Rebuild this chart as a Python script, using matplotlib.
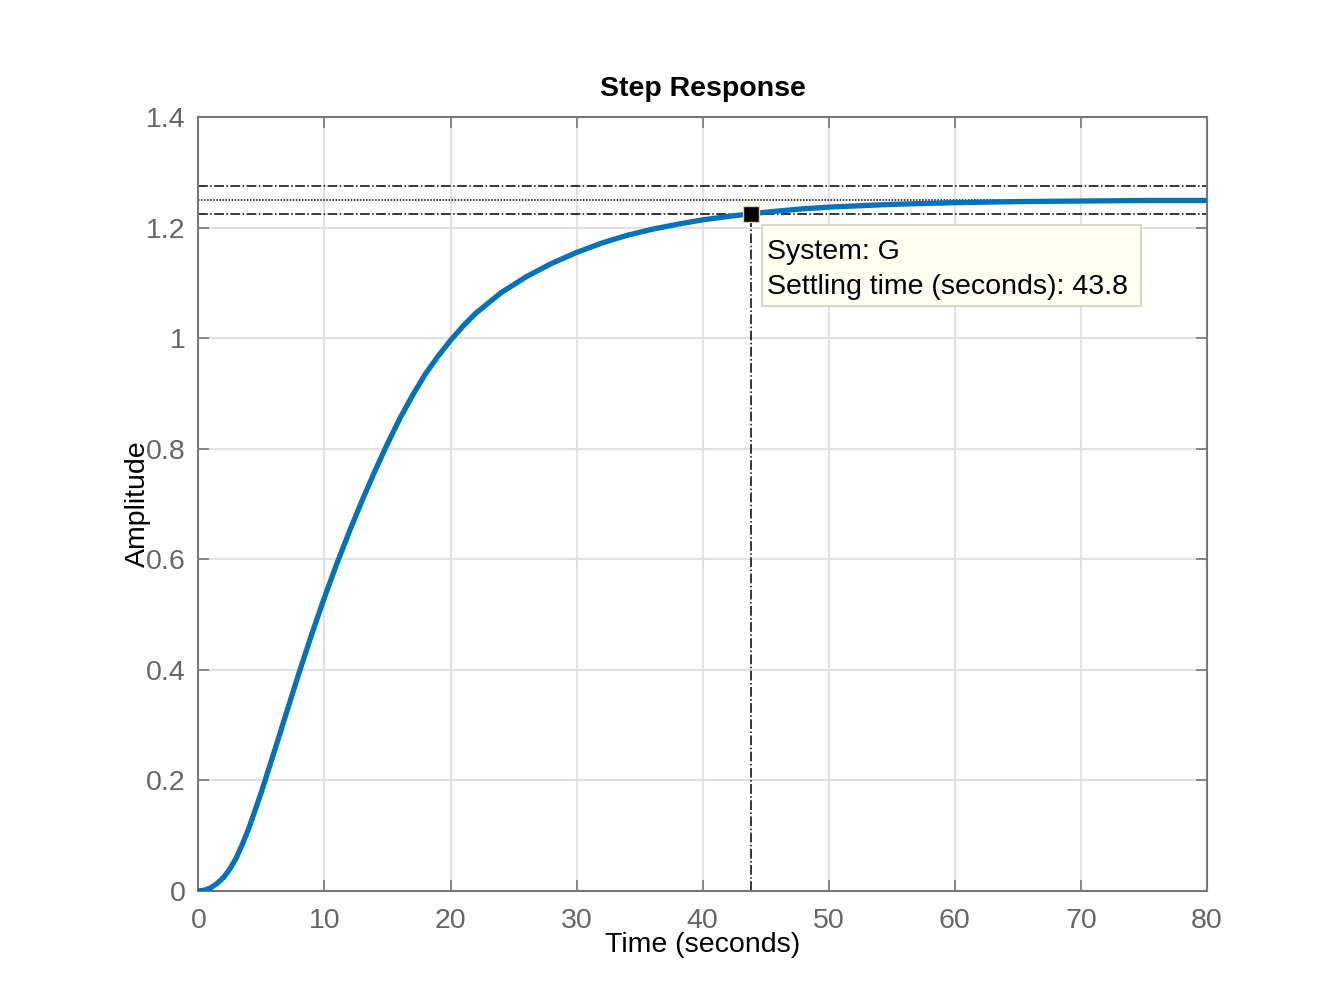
import numpy as np
import matplotlib
matplotlib.use("Agg")
from matplotlib import pyplot as plt
from matplotlib.patches import Rectangle

# step response
t = [0, 0.5, 1.0, 1.5, 2.0, 2.5, 3.0, 3.5, 4.0, 4.5, 5.0, 5.5, 6.0, 7.0, 8.0,
     9.0, 10.0, 11.0, 12.0, 13.0, 14.0, 15.0, 16.0, 17.0, 18.0, 19.0, 20.0,
     21.0, 22.0, 24.0, 26.0, 28.0, 30.0, 32.0, 34.0, 36.0, 38.0, 40.0, 42.0,
     43.8, 46.0, 48.0, 50.0, 55.0, 60.0, 65.0, 70.0, 75.0, 80.0]
y = [0, 0.0015, 0.006, 0.014, 0.0245, 0.040, 0.0595, 0.085, 0.113, 0.146,
     0.179, 0.215, 0.2505, 0.3235, 0.3955, 0.465, 0.531, 0.593, 0.6515, 0.707,
     0.7595, 0.809, 0.8555, 0.897, 0.935, 0.967, 0.996, 1.022, 1.045, 1.082,
     1.111, 1.135, 1.155, 1.172, 1.186, 1.197, 1.206, 1.214, 1.220, 1.225,
     1.230, 1.234, 1.237, 1.242, 1.245, 1.247, 1.248, 1.249, 1.249]

final_value = 1.25
band = 0.02
settle_t = 43.8
settle_y = 1.225
system_name = "G"

xticks = [0, 10, 20, 30, 40, 50, 60, 70, 80]
yticks = [0, 0.2, 0.4, 0.6, 0.8, 1.0, 1.2, 1.4]
yticklabels = ["0", "0.2", "0.4", "0.6", "0.8", "1", "1.2", "1.4"]

plt.rcParams['font.family'] = ['Liberation Sans', 'DejaVu Sans']
fs = 20.5

fig = plt.figure(figsize=(13.33, 10), dpi=100)
ax = fig.add_axes([0.1488, 0.109, 0.7567, 0.774])

grey = '#666666'
ax.set_xlim(0, 80)
ax.set_ylim(0, 1.4)
ax.set_xticks(xticks)
ax.set_yticks(yticks)
ax.set_yticklabels(yticklabels)
ax.grid(True, color='#e2e2e2', linewidth=1.5)
ax.set_axisbelow(True)
for s in ax.spines.values():
    s.set_color('#777777')
    s.set_linewidth(1.5)
ax.tick_params(direction='in', length=8, width=1.2, color='#777777',
               labelcolor=grey, labelsize=fs, top=True, right=True)
ax.tick_params(axis='x', pad=12.5)
ax.tick_params(axis='y', pad=9)

# settling bands
ax.axhline(final_value * (1 + band), color='black', lw=1.1, ls='-.', zorder=2)
ax.axhline(final_value, color='black', lw=1.1, ls=(0, (1, 1)), zorder=2)
ax.axhline(final_value * (1 - band), color='black', lw=1.1, ls='-.', zorder=2)
ax.plot([settle_t, settle_t], [0, settle_y], color='black', lw=1.1, ls='-.', zorder=2)

ax.plot(t, y, color='#0072BD', lw=3.8, zorder=3, solid_joinstyle='round')
ax.plot([settle_t], [settle_y], marker='s', ms=11, mfc='black', mec='#d8d8a0',
        mew=1, zorder=5, clip_on=False)

# data tip
bx0, bx1 = settle_t + 0.9, settle_t + 31.0
by0, by1 = settle_y - 0.167, settle_y - 0.0205
ax.add_patch(Rectangle((bx0, by0), bx1 - bx0, by1 - by0, facecolor='#fefff0',
                       edgecolor='#d0d0c0', lw=1.2, zorder=4))
ax.text(bx0 + 0.4, settle_y - 0.070, "System: " + system_name, fontsize=fs,
        va='center', ha='left', color='black', zorder=6)
ax.text(bx0 + 0.4, settle_y - 0.132, "Settling time (seconds): %.1f" % settle_t,
        fontsize=fs, va='center', ha='left', color='black', zorder=6)

ax.set_title("Step Response", fontsize=fs, fontweight='bold', pad=15)
ax.set_xlabel("Time (seconds)", fontsize=fs)
ax.set_ylabel("Amplitude", fontsize=fs)
ax.xaxis.set_label_coords(0.5, -0.053)
ax.yaxis.set_label_coords(-0.047, 0.5)

fig.savefig("out.png", dpi=100)
